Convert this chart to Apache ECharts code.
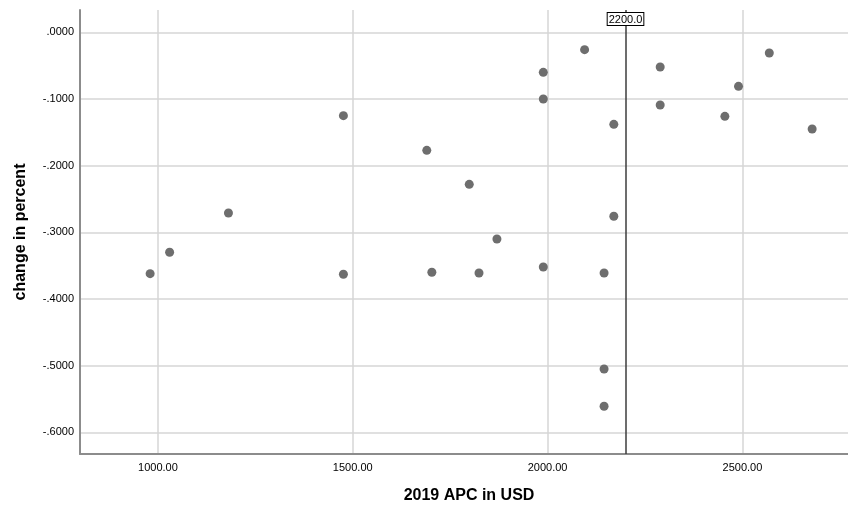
<!DOCTYPE html>
<html>
<head>
<meta charset="utf-8">
<script src="https://cdn.jsdelivr.net/npm/echarts@6/dist/echarts.min.js"></script>
<style>html,body{margin:0;padding:0;background:#fff;}#c{width:848px;height:510px;}</style>
</head>
<body>
<div id="c"></div>
<script>
const apc = [980, 1030, 1181, 1476, 1476, 1690, 1703, 1799, 1824, 1870, 1989, 1989, 1989, 2095, 2145, 2145, 2145, 2170, 2170, 2289, 2289, 2455, 2490, 2569, 2679];
const change = [-0.362, -0.330, -0.271, -0.125, -0.363, -0.177, -0.360, -0.228, -0.361, -0.310, -0.060, -0.100, -0.352, -0.026, -0.361, -0.505, -0.561, -0.138, -0.276, -0.052, -0.109, -0.126, -0.081, -0.031, -0.145];
const xTicks = [1000, 1500, 2000, 2500];
const yTicks = [0, -0.1, -0.2, -0.3, -0.4, -0.5, -0.6];
const refLine = 2200;
const xTitle = '2019 APC in USD';
const yTitle = 'change in percent';

const font = 'Arial, "Liberation Sans", Helvetica, sans-serif';
const chart = echarts.init(document.getElementById('c'), null, {renderer: 'canvas'});
chart.setOption({
  animation: false,
  backgroundColor: '#ffffff',
  grid: {left: 80, right: 0, top: 10, bottom: 56, outerBoundsMode: 'none'},
  xAxis: {
    type: 'value', min: 800, max: 2771,
    name: xTitle, nameLocation: 'middle', nameGap: 34,
    nameTextStyle: {fontFamily: font, fontSize: 16, fontWeight: 'bold', color: '#000', padding: [0, 0, 0, 10]},
    axisLine: {show: true, onZero: false, lineStyle: {color: '#8c8c8c', width: 2}},
    axisTick: {show: false, customValues: xTicks},
    axisLabel: {customValues: xTicks, fontFamily: font, fontSize: 11, color: '#000', margin: 8,
      formatter: v => Number(v).toFixed(2)},
    splitLine: {show: true, lineStyle: {color: '#d6d6d6', width: 1.5}}
  },
  yAxis: {
    type: 'value', min: -0.6326, max: 0.0335,
    name: yTitle, nameLocation: 'middle', nameGap: 51,
    nameTextStyle: {fontFamily: font, fontSize: 16, fontWeight: 'bold', color: '#000'},
    axisLine: {show: true, onZero: false, lineStyle: {color: '#8c8c8c', width: 2}},
    axisTick: {show: false, customValues: yTicks},
    axisLabel: {customValues: yTicks, fontFamily: font, fontSize: 11, color: '#000', margin: 6,
      formatter: v => Number(v).toFixed(4).replace(/^(-?)0\./, '$1.')},
    splitLine: {show: true, lineStyle: {color: '#d6d6d6', width: 1.5}}
  },
  series: [{
    type: 'scatter',
    data: apc.map((x, i) => [x, change[i]]),
    symbolSize: 9,
    itemStyle: {color: '#6e6e6e', opacity: 1},
    markLine: {
      silent: true, symbol: 'none',
      lineStyle: {color: '#3c3c3c', width: 1.5, type: 'solid'},
      label: {
        show: true, position: 'end', distance: -15,
        formatter: () => refLine.toFixed(1),
        fontFamily: font, fontSize: 11, color: '#000',
        backgroundColor: '#fff', borderColor: '#000', borderWidth: 1,
        padding: [1, 1, 0, 1]
      },
      data: [{xAxis: refLine}]
    }
  }]
});
</script>
</body>
</html>
